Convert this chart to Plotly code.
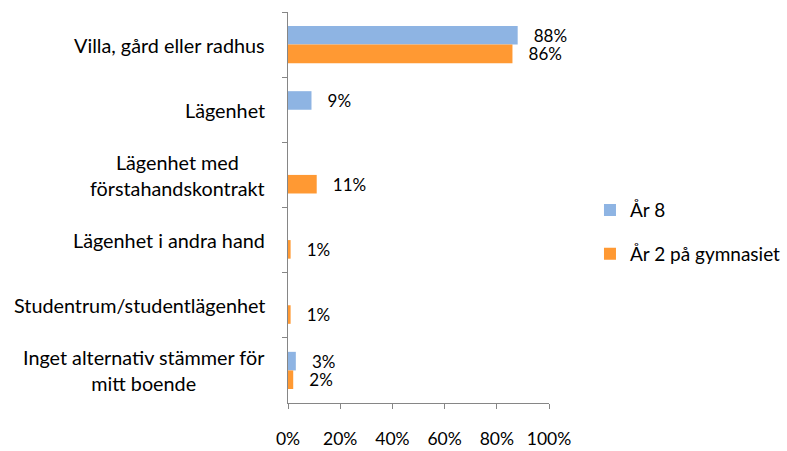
import plotly.graph_objects as go

categories = [
    "Villa, gård eller radhus",
    "Lägenhet",
    "Lägenhet med<br>förstahandskontrakt",
    "Lägenhet i andra hand",
    "Studentrum/studentlägenhet",
    "Inget alternativ stämmer för<br>mitt boende",
]
ar8 = [88, 9, None, None, None, 3]
ar2 = [86, None, 11, 1, 1, 2]
series_names = ["År 8", "År 2 på gymnasiet"]
colors = ["#8EB4E3", "#FF9933"]
x_ticks = [0, 20, 40, 60, 80, 100]
x_ticklabels = [f"{v}%" for v in x_ticks]

FONT = "Lato"
fig = go.Figure()
for name, vals, col in zip(series_names, [ar8, ar2], colors):
    fig.add_trace(go.Bar(
        y=categories, x=vals, orientation="h", name=name,
        marker=dict(color=col, line=dict(width=0)),
        text=[f"{v}%" if v is not None else "" for v in vals],
        texttemplate="   %{text}",
        textposition="outside", cliponaxis=False, constraintext="none",
        textfont=dict(family=FONT, size=17, color="#000000"),
        legendgroup=name,
    ))

for c in categories:
    fig.add_annotation(
        x=0, xref="paper", y=c, yref="y", text=c, showarrow=False,
        xanchor="right", yanchor="middle", align="center", xshift=-21,
        font=dict(family=FONT, size=19.8, color="#000000"),
    )

fig.update_layout(
    width=787, height=451,
    margin=dict(l=288, r=238, t=12, b=48, autoexpand=False),
    paper_bgcolor="white", plot_bgcolor="white",
    barmode="group", bargap=0.43, bargroupgap=0,
    font=dict(family=FONT, size=17, color="#000000"),
    showlegend=True,
    legend=dict(x=1.157, y=0.437, xanchor="left", yanchor="middle",
                traceorder="grouped", tracegroupgap=16,
                font=dict(family=FONT, size=19, color="#000000")),
)
fig.update_xaxes(
    range=[0, 100], tickvals=x_ticks, ticktext=x_ticklabels,
    showgrid=False, zeroline=False, showline=True, linecolor="#868686", linewidth=1,
    ticks="outside", ticklen=5, tickcolor="#868686", ticklabelstandoff=15,
    tickfont=dict(family=FONT, size=17.5, color="#000000"),
)
fig.update_yaxes(
    autorange="reversed", showgrid=False, zeroline=False, showline=True,
    linecolor="#868686", linewidth=1, ticks="outside", ticklen=5, tickcolor="#868686",
    tickson="boundaries", showticklabels=False,
)
fig.write_html("out.html", config={"displayModeBar": False},
               post_script="document.body.style.margin='0px';")
